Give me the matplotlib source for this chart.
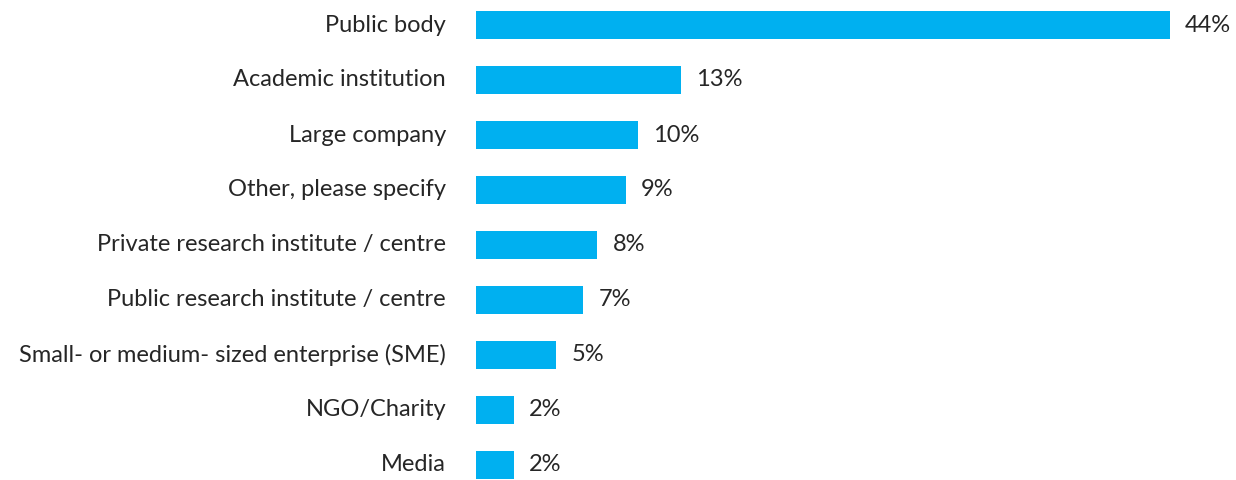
import matplotlib
matplotlib.use("Agg")
import matplotlib.pyplot as plt

categories = [
    "Public body",
    "Academic institution",
    "Large company",
    "Other, please specify",
    "Private research institute / centre",
    "Public research institute / centre",
    "Small- or medium- sized enterprise (SME)",
    "NGO/Charity",
    "Media",
]
values = [44.0, 13.0, 10.3, 9.5, 7.7, 6.8, 5.1, 2.4, 2.4]
labels = ["44%", "13%", "10%", "9%", "8%", "7%", "5%", "2%", "2%"]

W, H = 1236, 480
fig = plt.figure(figsize=(W / 100, H / 100), dpi=100)
left_px = 476
ax = fig.add_axes([left_px / W, 0, 1 - left_px / W, 1])

color = "#00B0F0"
pos = list(range(len(categories)))
ax.barh(pos, values, height=0.5, color=color)

px_per_unit = 694 / 44.0
ax.set_xlim(0, (W - left_px) / px_per_unit)
ax.set_ylim((H - 25) / 55, -25 / 55)

font = "Lato"
for p, v, lab in zip(pos, values, labels):
    ax.text(v + 15 / px_per_unit, p, lab, va="center", ha="left",
            fontsize=17, color="#262626", family=font)
    ax.text(-30 / px_per_unit, p, categories[p], va="center", ha="right",
            fontsize=17, color="#262626", family=font)

ax.axis("off")
fig.savefig("out.png", dpi=100)
